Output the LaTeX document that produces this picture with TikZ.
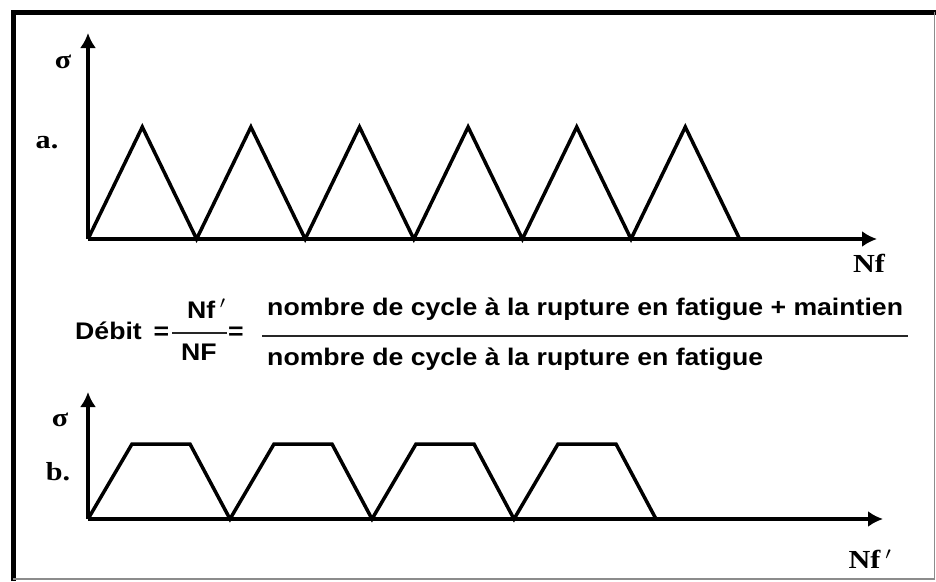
\documentclass[tikz,border=0pt]{standalone}
\usepackage{fontspec}
\setmainfont{Liberation Serif}
\setsansfont{Liberation Sans}
\usetikzlibrary{arrows.meta}

\tikzset{
  axe/.style={line width=3.5pt, -{Latex[length=15pt,width=16pt]}},
  signal/.style={line width=3.5pt, line join=miter},
  etiq/.style={font=\fontsize{26}{30}\selectfont\bfseries, xscale=1.16, inner sep=0pt},
  formule/.style={font=\fontsize{24}{28}\selectfont\sffamily\bfseries, xscale=1.11, inner sep=0pt},
  barre/.style={line width=2pt, black!85},
}

\begin{document}
\begin{tikzpicture}[x=1pt, y=-1pt]
    \useasboundingbox (0,0) rectangle (936,581);
    % Cadre
    \draw[line width=5pt] (13,581) -- (13,12) -- (936,12);
    \draw[line width=1.5pt, black!45] (934.5,12) -- (934.5,579) -- (13,579);

    % a. Fatigue pure
    \begin{scope}[shift={(88,239)}]
        \coordinate (aO) at (0,0);
        \coordinate (aY) at (0,-206);
        \coordinate (aX) at (789,0);
        \draw[axe] (aO) -- (aY);
        \draw[axe] (aO) -- (aX);
        \draw[signal] (aO) \foreach \i in {0,...,5} { -- ++(54.3,-112) -- ++(54.3,112) };
        \node[etiq] (sigA) at (-25,-177) {σ};
        \node[etiq] (labA) at (-41,-96) {a.};
        \node[etiq] (nfA) at (781,24) {Nf};
    \end{scope}

    % Debit
    \node[formule, anchor=base west] (debit) at (75,339) {Débit};
    \node[formule] (eqA) at (161.5,333) {=};
    \node[formule, anchor=base west] (fracN) at (187,318) {Nf\,$^{\prime}$};
    \node[formule, anchor=base] (fracD) at (199,360) {NF};
    \coordinate (fracL) at (172,333);
    \coordinate (fracR) at (227,333);
    \draw[barre] (fracL) -- (fracR);
    \node[formule] (eqB) at (236,333) {=};
    \node[formule, anchor=base west] (num) at (267,315) {nombre de cycle à la rupture en fatigue + maintien};
    \node[formule, anchor=base west] (den) at (267,365) {nombre de cycle à la rupture en fatigue};
    \coordinate (barL) at (262,336);
    \coordinate (barR) at (908,336);
    \draw[barre] (barL) -- (barR);

    % b. Fatigue avec maintien
    \begin{scope}[shift={(88,519)}]
        \coordinate (bO) at (0,0);
        \coordinate (bY) at (0,-127);
        \coordinate (bX) at (795,0);
        \draw[axe] (bO) -- (bY);
        \draw[axe] (bO) -- (bX);
        \draw[signal] (bO) \foreach \i in {0,...,3} { -- ++(44,-75) -- ++(58,0) -- ++(40,75) };
        \node[etiq] (sigB) at (-28,-99) {σ};
        \node[etiq] (labB) at (-30,-47) {b.};
        \node[etiq] (nfB) at (782,40) {Nf\,$^{\prime}$};
    \end{scope}
\end{tikzpicture}
\end{document}
